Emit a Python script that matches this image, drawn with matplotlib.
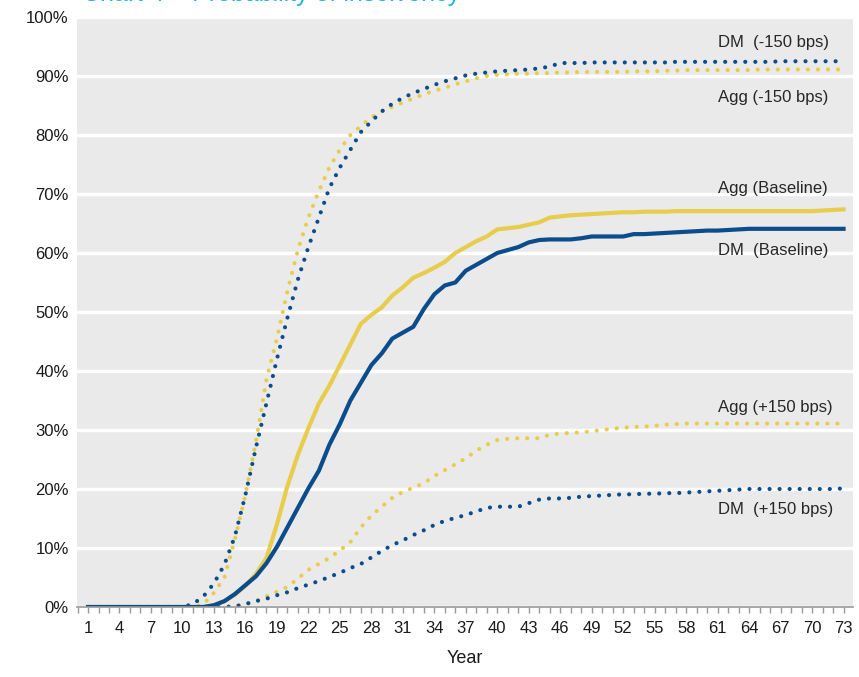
import matplotlib
matplotlib.use('Agg')
import matplotlib.pyplot as plt
import numpy as np

years = np.arange(1, 74)

dm_base = [0] * 12 + [
    0.3, 1.0, 2.2, 3.7, 5.2, 7.4, 10.2, 13.5, 16.8, 20.1,
    23.1, 27.5, 31.0, 35.0, 38.0, 41.0, 43.0, 45.5, 46.5, 47.5,
    50.5, 53.0, 54.5, 55.0, 57.0, 58.0, 59.0, 60.0, 60.5, 61.0,
    61.8, 62.2, 62.3, 62.3, 62.3, 62.5, 62.8, 62.8, 62.8, 62.8,
    63.2, 63.2, 63.3, 63.4, 63.5, 63.6, 63.7, 63.8, 63.8, 63.9,
    64.0, 64.1, 64.1, 64.1, 64.1, 64.1, 64.1, 64.1, 64.1, 64.1,
    64.1]
agg_base = [0] * 12 + [
    0.3, 1.0, 2.1, 3.6, 5.6, 8.3, 14.0, 20.5, 25.8, 30.3,
    34.5, 37.5, 41.0, 44.5, 48.0, 49.5, 50.8, 52.8, 54.2, 55.8,
    56.6, 57.5, 58.5, 60.0, 61.0, 62.0, 62.8, 64.0, 64.2, 64.4,
    64.8, 65.2, 66.0, 66.2, 66.4, 66.5, 66.6, 66.7, 66.8, 66.9,
    66.9, 67.0, 67.0, 67.0, 67.1, 67.1, 67.1, 67.1, 67.1, 67.1,
    67.1, 67.1, 67.1, 67.1, 67.1, 67.1, 67.1, 67.1, 67.2, 67.3,
    67.4]
dm_minus = [0] * 10 + [
    0.5, 1.8, 4.0, 7.2, 12.0, 19.0, 27.0, 34.5, 42.0, 49.0,
    55.5, 61.0, 66.0, 71.0, 74.5, 77.5, 80.5, 82.3, 84.0, 85.3,
    86.3, 87.1, 87.8, 88.5, 89.1, 89.6, 90.1, 90.4, 90.6, 90.8,
    90.9, 91.0, 91.1, 91.3, 91.6, 92.2, 92.2, 92.2, 92.3, 92.3,
    92.3, 92.3, 92.3, 92.3, 92.3, 92.3, 92.4, 92.4, 92.4, 92.4,
    92.4, 92.4, 92.4, 92.4, 92.4, 92.4, 92.5, 92.5, 92.5, 92.5,
    92.5, 92.5, 92.5]
agg_minus = [0] * 11 + [
    0.5, 2.4, 5.0, 11.5, 19.0, 28.0, 38.5, 45.5, 53.5, 60.5,
    66.0, 70.5, 74.5, 77.5, 80.0, 81.5, 83.0, 84.0, 84.8, 85.5,
    86.2, 86.9, 87.5, 88.0, 88.6, 89.1, 89.6, 90.0, 90.2, 90.3,
    90.4, 90.4, 90.5, 90.5, 90.6, 90.6, 90.7, 90.7, 90.7, 90.7,
    90.7, 90.8, 90.8, 90.8, 90.9, 90.9, 91.0, 91.0, 91.0, 91.0,
    91.0, 91.0, 91.0, 91.1, 91.1, 91.1, 91.1, 91.1, 91.1, 91.1,
    91.1, 91.1]
agg_plus = [0] * 14 + [
    0.2, 0.5, 1.0, 1.8, 2.6, 3.4, 4.8, 6.3, 7.3, 8.3,
    9.6, 11.0, 13.5, 15.5, 17.0, 18.5, 19.5, 20.2, 21.0, 22.2,
    23.2, 24.2, 25.2, 26.5, 27.5, 28.3, 28.5, 28.6, 28.6, 28.6,
    29.2, 29.4, 29.5, 29.6, 29.8, 30.0, 30.2, 30.4, 30.5, 30.6,
    30.7, 30.9, 31.0, 31.1, 31.1, 31.1, 31.1, 31.1, 31.1, 31.1,
    31.1, 31.1, 31.1, 31.1, 31.1, 31.1, 31.1, 31.1, 31.1]
dm_plus = [0] * 14 + [
    0.1, 0.5, 1.0, 1.4, 2.0, 2.5, 3.2, 3.8, 4.4, 5.1,
    5.8, 6.6, 7.3, 8.4, 9.5, 10.5, 11.3, 12.2, 13.0, 13.9,
    14.6, 15.1, 15.6, 16.2, 16.8, 17.0, 17.0, 17.0, 17.6, 18.2,
    18.4, 18.4, 18.5, 18.7, 18.8, 18.9, 19.0, 19.1, 19.1, 19.2,
    19.2, 19.3, 19.3, 19.4, 19.5, 19.6, 19.7, 19.8, 19.9, 20.0,
    20.0, 20.0, 20.0, 20.0, 20.0, 20.0, 20.0, 20.0, 20.1]

labels = ['DM  (-150 bps)', 'Agg (-150 bps)', 'Agg (Baseline)',
          'DM  (Baseline)', 'Agg (+150 bps)', 'DM  (+150 bps)']
label_y = [95.6, 86.3, 70.9, 60.4, 33.8, 16.6]

blue = '#0B4D8C'
yellow = '#E8CD4C'

plt.rcParams['font.family'] = ['Liberation Sans', 'DejaVu Sans']

fig = plt.figure(figsize=(8.59, 6.77), dpi=100)
ax = fig.add_axes([77 / 859, 70 / 677, 776 / 859, 590 / 677])
ax.set_facecolor('#EAEAEA')

dot = (0, (0.01, 2.4))
lw = 3
ax.plot(years, agg_plus, color=yellow, lw=lw, ls=dot, dash_capstyle='round')
ax.plot(years, dm_plus, color=blue, lw=lw, ls=dot, dash_capstyle='round')
ax.plot(years, agg_minus, color=yellow, lw=lw, ls=dot, dash_capstyle='round')
ax.plot(years, dm_minus, color=blue, lw=lw, ls=dot, dash_capstyle='round')
ax.plot(years, agg_base, color=yellow, lw=3)
ax.plot(years, dm_base, color=blue, lw=3)

for txt, yv in zip(labels, label_y):
    ax.text(61.0, yv, txt, fontsize=12, color='#262626', va='center', ha='left')

ax.set_xlim(-0.05, 73.9)
ax.set_ylim(0, 100)
ax.set_yticks(np.arange(0, 101, 10))
ax.set_yticklabels(['%d%%' % v for v in range(0, 101, 10)])
ax.set_xticks(years[::3])
ax.set_xticks(np.arange(0, 74), minor=True)
ax.grid(axis='y', color='white', lw=2.5)
ax.set_axisbelow(True)
for s in ['top', 'right', 'left']:
    ax.spines[s].set_visible(False)
ax.spines['bottom'].set_color('#999999')
ax.spines['bottom'].set_linewidth(1.2)
ax.tick_params(axis='y', length=0, pad=6, labelsize=12, colors='#1a1a1a')
ax.tick_params(axis='x', which='both', length=4, color='#999999', width=1,
               labelsize=12, labelcolor='#1a1a1a', pad=6)
ax.set_xlabel('Year', fontsize=13, color='#1a1a1a', labelpad=10)

# title is cut off at the top of the original picture
fig.text(0.096, 1 - 1.5 / 677, 'Chart 4 \u2013 Probability of insolvency',
         color='#1EB4E6', fontsize=18, va='baseline', ha='left')

fig.savefig('out.png', dpi=100)
